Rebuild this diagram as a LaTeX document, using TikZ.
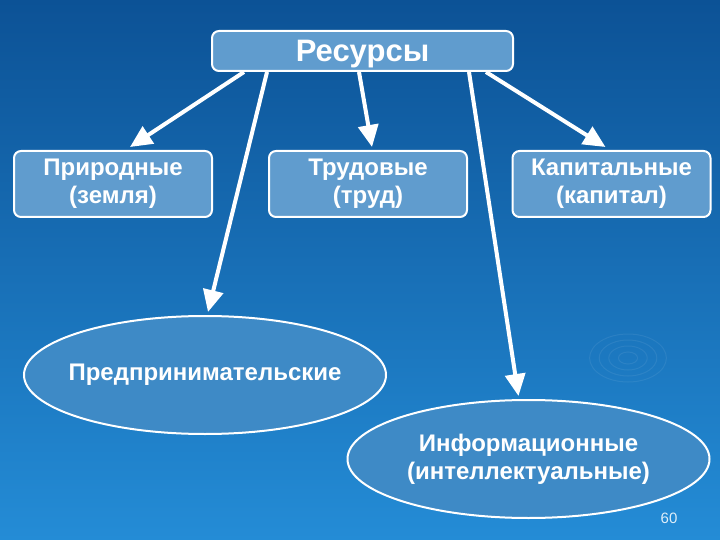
\documentclass[tikz,border=0pt]{standalone}
\usepackage{fontspec}
\setmainfont{Liberation Sans}
\usetikzlibrary{arrows.meta,shapes.geometric}
\definecolor{bgtop}{RGB}{12,82,150}
\definecolor{bgbot}{RGB}{36,140,214}
\definecolor{boxfill}{RGB}{96,156,206}
\definecolor{ellfill}{RGB}{62,138,198}
\begin{document}
\begin{tikzpicture}
[x=1pt,y=-1pt,
 kind/.style={draw=white, line width=2pt, rounded corners=7pt, fill=boxfill, text=white,
   font=\bfseries\fontsize{24}{28}\selectfont, align=center, inner sep=0pt,
   minimum width=198pt, minimum height=66pt},
 oval/.style={ellipse, draw=white, line width=2pt, fill=ellfill, text=white,
   font=\bfseries\fontsize{24}{28}\selectfont, align=center, inner sep=0pt,
   minimum width=362pt, minimum height=118pt},
 arr/.style={white, line width=4pt, -{Triangle[length=22pt,width=20pt]}}]
\shade [top color=bgtop, bottom color=bgbot] (0,0) rectangle (720,540);
\useasboundingbox (0,0) rectangle (720,540);
% ripples
\foreach \r in {6,12,18,24}
  \draw [white, opacity=0.07, line width=1pt] (628,358) ellipse ({1.6*\r} and {\r});
% top
\node [kind, minimum width=301pt, minimum height=40pt, text depth=0pt,
  font=\bfseries\fontsize{31}{36}\selectfont] (res) at (362.5,51) {Ресурсы};
% kinds of resources
\node [kind] (nat) at (113,184) {Природные\\(земля)};
\node [kind] (lab) at (368,184) {Трудовые\\(труд)};
\node [kind] (cap) at (611.5,184) {Капитальные\\(капитал)};
\node [oval, inner xsep=-12pt] (ent) at (205,375) {Предпринимательские};
\node [oval] (inf) at (528.5,459) {Информационные\\(интеллектуальные)};
% arrows
\draw [arr] ([xshift=33pt]res.south west) -- ([xshift=17pt,yshift=3pt]nat.north);
\draw [arr] ([xshift=56pt]res.south west) -- ([xshift=3pt,yshift=3pt]ent.north);
\draw [arr] ([xshift=148pt]res.south west) -- ([xshift=4pt,yshift=3pt]lab.north);
\draw [arr] ([xshift=258pt]res.south west) -- ([xshift=-10pt,yshift=3pt]inf.north);
\draw [arr] ([xshift=275pt]res.south west) -- ([xshift=-6pt,yshift=3pt]cap.north);
\node [text=white!85!bgbot, font=\fontsize{15}{17}\selectfont] (num) at (669,518) {60};
\end{tikzpicture}
\end{document}
